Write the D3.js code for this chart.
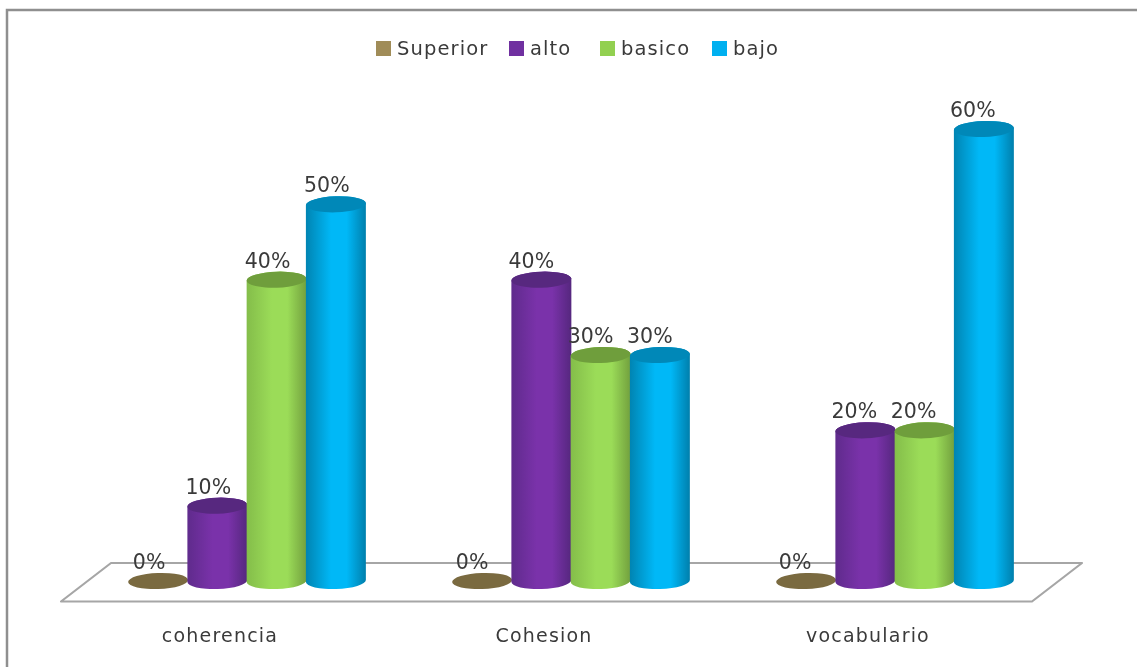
<!DOCTYPE html>
<html>
<head>
<meta charset="utf-8">
<script src="https://cdnjs.cloudflare.com/ajax/libs/d3/7.8.5/d3.min.js"></script>
<style>
  html, body { margin: 0; padding: 0; background: #fff; }
  svg { display: block; filter: blur(0.6px); }
  text { font-family: "DejaVu Sans", sans-serif; fill: #3a3a3a; }
</style>
</head>
<body>
<svg id="chart" width="1137" height="667"></svg>
<script>
const categories = ['coherencia', 'Cohesion', 'vocabulario'];
const seriesNames = ['Superior', 'alto', 'basico', 'bajo'];
const superior = [0, 0, 0];
const alto = [10, 40, 20];
const basico = [40, 30, 20];
const bajo = [50, 30, 60];
const seriesValues = [superior, alto, basico, bajo];
const tops = ['#7a6a40', '#57287f', '#6f9e3c', '#0088b8'];
const leftEdges = ['#7a6a40', '#5f2b8c', '#84bd4a', '#0084b2'];
const rightEdges = ['#7a6a40', '#55277e', '#72a03e', '#007fac'];
const mains = ['#7a6a40', '#7a32aa', '#9bdc58', '#00b8f7'];
const swatches = ['#a08c58', '#7030a0', '#92d050', '#00b0f0'];

const svg = d3.select('#chart');
const defs = svg.append('defs');

const x0 = d3.scaleBand()
  .domain(categories)
  .range([128.5, 1013.5])
  .paddingInner(0.2685);
const x1 = d3.scaleBand()
  .domain(seriesNames)
  .range([0, x0.bandwidth()]);
const y = d3.scaleLinear().domain([0, 60]).range([581, 129]);

const rx = 30;
const ry = 8;
const tilt = -2; // ellipses lean a little in the 3d view
const dy = rx * Math.sin(-tilt * Math.PI / 180);
const dx = rx * Math.cos(tilt * Math.PI / 180);

// outer frame, only top and left show in the picture
svg.append('path')
  .attr('d', 'M7,667V10H1137')
  .attr('fill', 'none')
  .attr('stroke', '#8f8f8f')
  .attr('stroke-width', 2.5);

// floor
svg.append('path')
  .attr('d', 'M61,601.5L111,563H1082L1032,601.5Z')
  .attr('fill', '#fff')
  .attr('stroke', '#a6a6a6')
  .attr('stroke-width', 2.2)
  .attr('stroke-linejoin', 'round');

// side shading of the cylinders
seriesNames.forEach((name, i) => {
  const grad = defs.append('linearGradient')
    .attr('id', 'grad' + i)
    .attr('x1', 0).attr('x2', 1).attr('y1', 0).attr('y2', 0);
  grad.append('stop').attr('offset', '0%').attr('stop-color', leftEdges[i]);
  grad.append('stop').attr('offset', '42%').attr('stop-color', mains[i]);
  grad.append('stop').attr('offset', '68%').attr('stop-color', mains[i]);
  grad.append('stop').attr('offset', '100%').attr('stop-color', rightEdges[i]);
});

const cylinder = (cx, yTop) => {
  const base = y(0);
  return `M${cx - dx},${yTop + dy}L${cx - dx},${base + dy}`
    + `A${rx},${ry} ${tilt} 0 0 ${cx + dx},${base - dy}`
    + `L${cx + dx},${yTop - dy}`
    + `A${rx},${ry} ${tilt} 0 0 ${cx - dx},${yTop + dy}Z`;
};

const groups = svg.selectAll('.group')
  .data(categories)
  .enter()
  .append('g')
  .attr('class', 'group')
  .attr('transform', d => `translate(${x0(d)},0)`);

groups.each(function(cat, c) {
  const g = d3.select(this);
  seriesNames.forEach((name, i) => {
    const v = seriesValues[i][c];
    const cx = x1(name) + x1.bandwidth() / 2;
    if (v > 0) {
      g.append('path')
        .attr('d', cylinder(cx, y(v)))
        .attr('fill', `url(#grad${i})`);
    }
    g.append('ellipse')
      .attr('rx', rx)
      .attr('ry', ry)
      .attr('transform', `translate(${cx},${y(v)}) rotate(${tilt})`)
      .attr('fill', tops[i]);
  });
});

// value labels on top so the neighbouring bars do not cover them
groups.each(function(cat, c) {
  const g = d3.select(this);
  seriesNames.forEach((name, i) => {
    const v = seriesValues[i][c];
    g.append('text')
      .attr('x', x1(name) + x1.bandwidth() / 2 - 9 - c)
      .attr('y', y(v) - 12)
      .attr('text-anchor', 'middle')
      .style('font-size', '20.5px')
      .text(v + '%');
  });
});

// category axis, labels sit left of the bars because of the 3d floor
const xAxis = d3.axisBottom(x0).tickSize(0);
const axisG = svg.append('g')
  .attr('transform', 'translate(-27,625)')
  .call(xAxis);
axisG.select('.domain').remove();
axisG.selectAll('text')
  .attr('dy', 0)
  .attr('y', 17)
  .style('font-size', '19px')
  .style('letter-spacing', '1.2px')
  .style('font-family', '"DejaVu Sans", sans-serif')
  .style('fill', '#3a3a3a');

// legend
const legendX = [376, 509, 600, 712];
const legend = svg.selectAll('.legend')
  .data(seriesNames)
  .enter()
  .append('g')
  .attr('class', 'legend')
  .attr('transform', (d, i) => `translate(${legendX[i]},41)`);
legend.append('rect')
  .attr('width', 15)
  .attr('height', 15)
  .attr('fill', (d, i) => swatches[i]);
legend.append('text')
  .attr('x', 21)
  .attr('y', 14)
  .style('font-size', '19.5px')
  .style('letter-spacing', '1.1px')
  .text(d => d);
</script>
</body>
</html>
